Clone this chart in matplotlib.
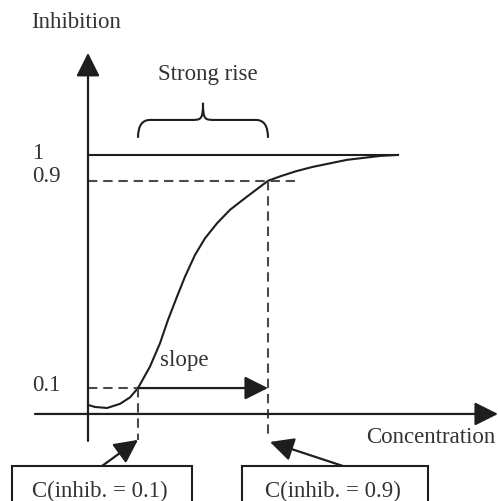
import matplotlib.pyplot as plt
from matplotlib.patches import Rectangle
from matplotlib.path import Path
from matplotlib.patches import PathPatch

plt.rcParams['font.family'] = ['Liberation Serif', 'DejaVu Serif']

# Dose-response curve (concentration in arbitrary units)
concentracion = [0.00, 0.07, 0.19, 0.32, 0.42, 0.50, 0.62, 0.72, 0.80, 0.89,
                 0.97, 1.07, 1.17, 1.29, 1.42, 1.59, 1.80, 1.92, 2.08, 2.25,
                 2.59, 2.92, 3.10]
inhibicion = [0.035, 0.027, 0.023, 0.039, 0.064, 0.100, 0.183, 0.273, 0.363, 0.453,
              0.530, 0.614, 0.678, 0.736, 0.788, 0.839, 0.900, 0.917, 0.937, 0.954,
              0.981, 0.996, 1.000]

# niveles de referencia y concentraciones correspondientes
nivel_max = 1.0
nivel_bajo = 0.1
nivel_alto = 0.9
c_bajo = 0.50   # C(inhib. = 0.1)
c_alto = 1.80   # C(inhib. = 0.9)

etiquetas_y = ['1', '0.9', '0.1']
valores_y = [nivel_max, nivel_alto, nivel_bajo]

negro = '#1e1e1e'
gris = '#4a4a4a'
texto = '#333333'

fig = plt.figure(figsize=(4.98, 5.01), dpi=100)
ax = fig.add_axes([0, 0, 1, 1])
ax.set_xlim(-0.88, 4.10)
ax.set_ylim(-0.336, 1.598)
ax.axis('off')

flecha = dict(arrowstyle='-|>,head_length=0.9,head_width=0.45', mutation_scale=16,
              color=negro, lw=1.6, shrinkA=0, shrinkB=0)

# ejes con flechas
ax.annotate('', xy=(0, 1.394), xytext=(0, -0.104), arrowprops=flecha)
ax.annotate('', xy=(4.10, 0), xytext=(-0.53, 0), arrowprops=flecha)

# curva y linea de saturacion
ax.plot(concentracion, inhibicion, color=negro, lw=1.5, solid_joinstyle='round')
ax.plot([0, concentracion[-1]], [nivel_max, nivel_max], color=negro, lw=1.5)

# lineas discontinuas
estilo = dict(color=gris, lw=1.5, linestyle=(0, (4.5, 2.8)))
ax.plot([0, 2.07], [nivel_alto, nivel_alto], **estilo)
ax.plot([c_alto, c_alto], [nivel_alto, -0.089], **estilo)
ax.plot([0, c_bajo], [nivel_bajo, nivel_bajo], **estilo)
ax.plot([c_bajo, c_bajo], [nivel_bajo, -0.10], **estilo)

# flecha horizontal de la pendiente
ax.annotate('', xy=(c_alto, nivel_bajo), xytext=(c_bajo, nivel_bajo), arrowprops=flecha)

# llave "Strong rise"
y0, y1, y2 = 1.066, 1.135, 1.201
xm = (c_bajo + c_alto) / 2
r = 0.12
verts = [(c_bajo, y0), (c_bajo, y1), (c_bajo + r, y1),
         (xm - r, y1),
         (xm - 0.02, y1), (xm, y1), (xm, y2),
         (xm, y1), (xm + 0.02, y1), (xm + r, y1),
         (c_alto - r, y1),
         (c_alto, y1), (c_alto, y0)]
codes = [Path.MOVETO, Path.CURVE3, Path.CURVE3,
         Path.LINETO,
         Path.CURVE4, Path.CURVE4, Path.CURVE4,
         Path.CURVE4, Path.CURVE4, Path.CURVE4,
         Path.LINETO,
         Path.CURVE3, Path.CURVE3]
ax.add_patch(PathPatch(Path(verts, codes), fill=False, edgecolor=negro, lw=1.5))

# textos
fs = 16.5
ax.text(-0.12, 1.51, 'Inhibition', fontsize=fs, color=texto, ha='center', va='center')
ax.text(1.20, 1.309, 'Strong rise', fontsize=fs, color=texto, ha='center', va='center')
for etiqueta, valor, desp in zip(etiquetas_y, valores_y, [0.004, 0.015, 0.008]):
    ax.text(-0.56, valor + desp, etiqueta, fontsize=fs, color=texto, ha='left', va='center')
ax.text(0.72, 0.208, 'slope', fontsize=fs, color=texto, ha='left', va='center')
ax.text(4.07, -0.089, 'Concentration', fontsize=fs, color=texto, ha='right', va='center')

# cajas inferiores
ax.add_patch(Rectangle((-0.76, -0.45), 1.80, 0.249, fill=False, edgecolor=negro, lw=1.5))
ax.add_patch(Rectangle((1.54, -0.45), 1.86, 0.249, fill=False, edgecolor=negro, lw=1.5))
ax.text(0.12, -0.301, 'C(inhib. = 0.1)', fontsize=fs, color=texto, ha='center', va='center')
ax.text(2.45, -0.301, 'C(inhib. = 0.9)', fontsize=fs, color=texto, ha='center', va='center')

ax.annotate('', xy=(c_bajo, -0.100), xytext=(0.14, -0.201), arrowprops=flecha)
ax.annotate('', xy=(c_alto + 0.02, -0.108), xytext=(2.55, -0.201), arrowprops=flecha)

fig.savefig('out.png', dpi=100)
